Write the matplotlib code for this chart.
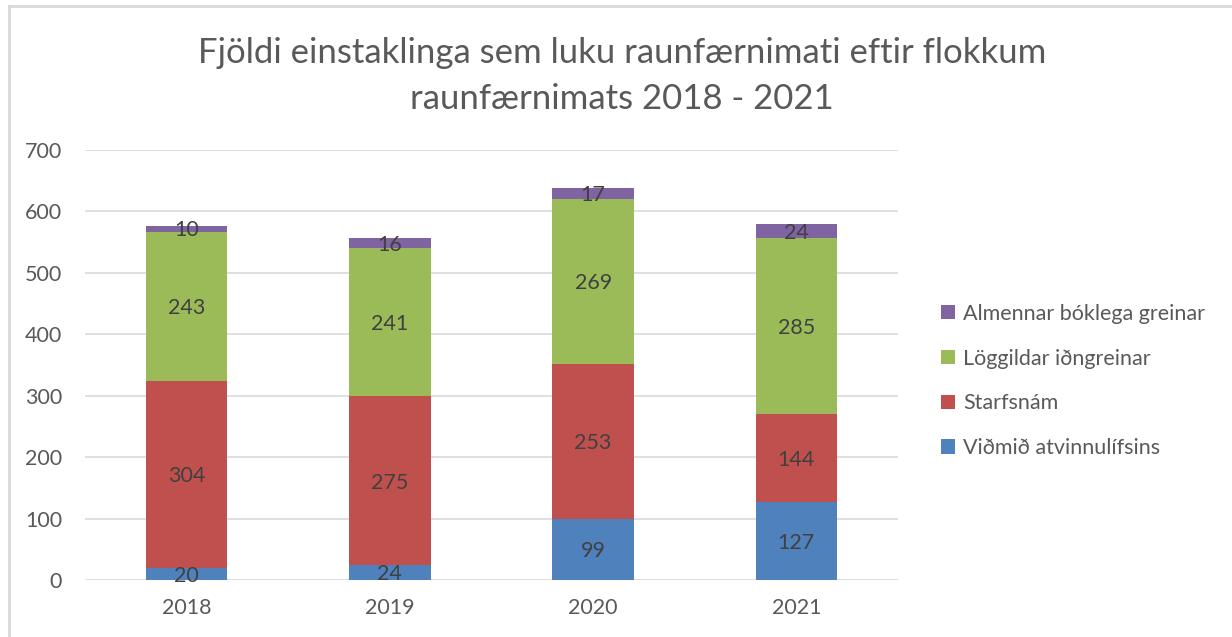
import numpy as np
import matplotlib.pyplot as plt
from matplotlib.lines import Line2D

plt.rcParams['font.family'] = ['Lato', 'DejaVu Sans']

# Data
years = ['2018', '2019', '2020', '2021']
series_names = ['Viðmið atvinnulífsins', 'Starfsnám',
                'Löggildar iðngreinar', 'Almennar bóklega greinar']
vidmid = [20, 24, 99, 127]
starfsnam = [304, 275, 253, 144]
loggildar = [243, 241, 269, 285]
almennar = [10, 16, 17, 24]
colors = ['#4F81BD', '#C0504D', '#9BBB59', '#8064A2']

W, H = 1232, 637
fig = plt.figure(figsize=(W / 100, H / 100), dpi=100)
ax = fig.add_axes([85 / W, 1 - 580 / H, 813 / W, 430 / H])

x = np.arange(len(years))
bottom = np.zeros(len(years))
handles = []
for vals, name, col in zip([vidmid, starfsnam, loggildar, almennar], series_names, colors):
    bars = ax.bar(x, vals, 0.4, bottom=bottom, color=col, label=name, zorder=2)
    for xi, b, v in zip(x, bottom, vals):
        ax.text(xi, b + v / 2 - 3, str(v), ha='center', va='center',
                fontsize=15.5, color='#404040', zorder=3)
    bottom += np.array(vals)
    handles.append(bars)

ax.set_xlim(-0.5, len(years) - 0.5)
ax.set_ylim(0, 700)
ax.set_yticks(range(0, 701, 100))
ax.set_xticks(x)
ax.set_xticklabels(years)
ax.tick_params(axis='both', length=0, labelsize=15.5, colors='#595959')
ax.tick_params(axis='y', pad=16.5)
ax.tick_params(axis='x', pad=13)
ax.grid(axis='y', color='#D9D9D9', linewidth=1.2, zorder=0)
for s in ax.spines.values():
    s.set_visible(False)

fig.text(622 / W, 1 - 76 / H,
         'Fjöldi einstaklinga sem luku raunfærnimati eftir flokkum\nraunfærnimats 2018 - 2021',
         ha='center', va='center', fontsize=25, color='#595959', linespacing=1.55)

leg = fig.legend(handles[::-1], series_names[::-1], loc='center left',
                 bbox_to_anchor=(922 / W, 1 - 381 / H), frameon=False,
                 fontsize=15.5, labelspacing=1.15, handlelength=0.65,
                 handleheight=0.65, handletextpad=0.35, labelcolor='#595959')

# chart frame (top and left edges visible)
fig.add_artist(Line2D([9 / W, 9 / W], [0, 1 - 6 / H], color='#D9D9D9', lw=2))
fig.add_artist(Line2D([9 / W, 1], [1 - 6 / H, 1 - 6 / H], color='#D9D9D9', lw=2))

fig.savefig('out.png', dpi=100)
